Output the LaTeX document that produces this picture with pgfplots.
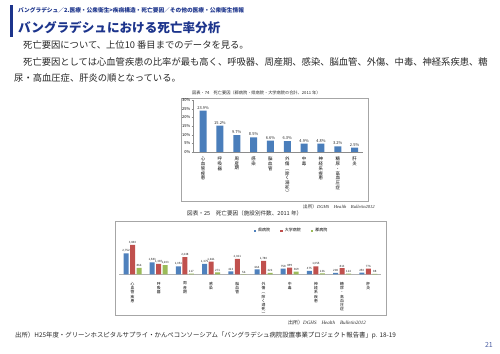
\documentclass[border=0pt]{standalone}
\usepackage{pgfplots}
\pgfplotsset{compat=1.18}
\usepackage{fontspec}
\setmainfont{Noto Sans CJK JP}
\newfontfamily\srf{Liberation Serif}
\definecolor{navy}{RGB}{28,52,140}
\definecolor{bblue}{RGB}{74,126,187}
\definecolor{cblue}{RGB}{79,129,189}
\definecolor{cred}{RGB}{192,80,77}
\definecolor{cgreen}{RGB}{155,187,89}
\definecolor{txt}{RGB}{40,40,40}
\begin{document}
\begin{tikzpicture}[x=1pt,y=1pt]
\path[use as bounding box, fill=white] (0,0) rectangle (500,353);
% header
\fill[navy] (10,348) rectangle (13,316);
\node[anchor=west, inner sep=0, text=navy, font=\fontsize{5.7}{6}\selectfont\bfseries] at (18,343) {バングラデシュ／2.医療・公衆衛生>疾病構造・死亡要因／その他の医療・公衆衛生情報};
\node[anchor=west, inner sep=0, text=navy, font=\fontsize{12.6}{13}\selectfont\bfseries] at (18,325) {バングラデシュにおける死亡率分析};
\node[anchor=west, inner sep=0, text=txt, font=\fontsize{9.3}{10}\selectfont] at (23,308) {死亡要因について、上位10 番目までのデータを見る。};
\node[anchor=west, inner sep=0, text=txt, font=\fontsize{9.3}{10}\selectfont] at (23,291) {死亡要因としては心血管疾患の比率が最も高く、呼吸器、周産期、感染、脳血管、外傷、中毒、神経系疾患、糖};
\node[anchor=west, inner sep=0, text=txt, font=\fontsize{9.3}{10}\selectfont] at (14,275) {尿・高血圧症、肝炎の順となっている。};
% chart 1
\node[anchor=west, inner sep=0, text=txt, font=\fontsize{4.2}{5}\selectfont] at (192,260) {図表・74　死亡要因（郡病院・県病院・大学病院の合計、2011 年）};
\draw[black!35, line width=0.5pt] (181,255) rectangle (368,152);
\begin{axis}[at={(193pt,201pt)}, anchor=south west, scale only axis,
  width=170pt, height=52pt, xmin=-0.6, xmax=9.5, ymin=0, ymax=30,
  ybar, bar width=7pt,
  axis x line*=bottom, axis y line*=left,
  axis line style={black!45, line width=0.4pt},
  ytick={0,5,...,30}, yticklabel={\pgfmathprintnumber{\tick}\%},
  yticklabel style={font=\fontsize{4}{4.5}\selectfont, inner sep=1pt},
  ytick style={black!45}, tick align=outside, major tick length=1.5pt,
  xtick={0,...,9}, xtick style={draw=none},
  xticklabels={{心\\血\\管\\疾\\患},{呼\\吸\\器},{周\\産\\期},{感\\染},{脳\\血\\管},{外\\傷\\︵\\除\\く\\溺\\死\\︶},{中\\毒},{神\\経\\系\\疾\\患},{糖\\尿\\・\\高\\血\\圧\\症},{肝\\炎}},
  xticklabel style={align=center, font=\fontsize{4.4}{4.9}\selectfont, inner sep=1pt, yshift=-2pt},
  /pgf/number format/assume math mode=true,
  nodes near coords={\pgfmathprintnumber[fixed,precision=1,fixed zerofill]{\pgfplotspointmeta}\%},
  nodes near coords style={font=\fontsize{4}{4.5}\selectfont, inner sep=1.2pt, text=txt},
]
\addplot[fill=bblue, draw=none] coordinates {(0,23.9) (1,15.2) (2,9.7) (3,8.5) (4,6.6) (5,6.3) (6,4.9) (7,4.8) (8,3.2) (9,2.5)};
\end{axis}
\node[anchor=west, inner sep=0, text=txt, font=\fontsize{4.6}{5}\selectfont] at (303,146) {出所）\srf\itshape DGHS\quad Health\quad Bulletin2012};
% chart 2
\node[anchor=west, inner sep=0, text=txt, font=\fontsize{5.6}{6}\selectfont] at (187,140) {図表・25　死亡要因（施設別件数、2011 年）};
\draw[black!35, line width=0.5pt] (115,132) rectangle (386,38);
\begin{axis}[at={(119.4pt,78.5pt)}, anchor=south west, scale only axis,
  width=262pt, height=48pt, xmin=-0.5, xmax=9.5, ymin=0, ymax=6240,
  ybar=1.5pt, bar width=5pt,
  axis x line*=bottom, axis y line=none,
  axis line style={black!30, line width=0.4pt},
  xtick={0,...,9}, xtick style={draw=none},
  xticklabels={{心\\血\\管\\疾\\患},{呼\\吸\\器},{周\\産\\期},{感\\染},{脳\\血\\管},{外\\傷\\︵\\除\\く\\溺\\死\\︶},{中\\毒},{神\\経\\系\\疾\\患},{糖\\尿\\・\\高\\血\\圧\\症},{肝\\炎}},
  xticklabel style={align=center, font=\fontsize{3.8}{4.3}\selectfont, inner sep=1pt, yshift=-2pt},
  /pgf/number format/assume math mode=true,
  nodes near coords,
  nodes near coords style={font=\fontsize{2.9}{3.5}\selectfont, inner sep=0.8pt, text=txt},
  legend columns=3,
  legend style={at={(0.657,0.906)}, anchor=center, draw=none, fill=none,
    font=\fontsize{4}{4.5}\selectfont, /tikz/every even column/.append style={column sep=8pt}},
  legend image code/.code={\fill[#1] (0pt,-1.3pt) rectangle (2.6pt,1.3pt);},
]
\addplot[fill=cblue, draw=none] coordinates {(0,2752) (1,1583) (2,1051) (3,1375) (4,413) (5,664) (6,758) (7,475) (8,208) (9,250)};
\addplot[fill=cred, draw=none] coordinates {(0,3840) (1,1387) (2,2248) (3,1661) (4,2021) (5,1780) (6,899) (7,1055) (8,813) (9,776)};
\addplot[fill=cgreen, draw=none] coordinates {(0,866) (1,1203) (2,117) (3,271) (4,56) (5,222) (6,369) (7,136) (8,114) (9,88)};
\legend{県病院,大学病院,郡病院}
\end{axis}
\node[anchor=west, inner sep=0, text=txt, font=\fontsize{5}{5.5}\selectfont] at (288,30) {出所）\srf\itshape DGHS\quad Health\quad Bulletin2012};
% footer
\node[anchor=west, inner sep=0, text=txt, font=\fontsize{6.4}{7}\selectfont] at (15,18) {出所）H25年度・グリーンホスピタルサプライ・かんぺコンソーシアム「バングラデシュ病院設置事業プロジェクト報告書」p. 18-19};
\node[anchor=east, inner sep=0, text=navy!80, font=\fontsize{7}{7}\selectfont] at (493,8) {21};
\end{tikzpicture}
\end{document}
